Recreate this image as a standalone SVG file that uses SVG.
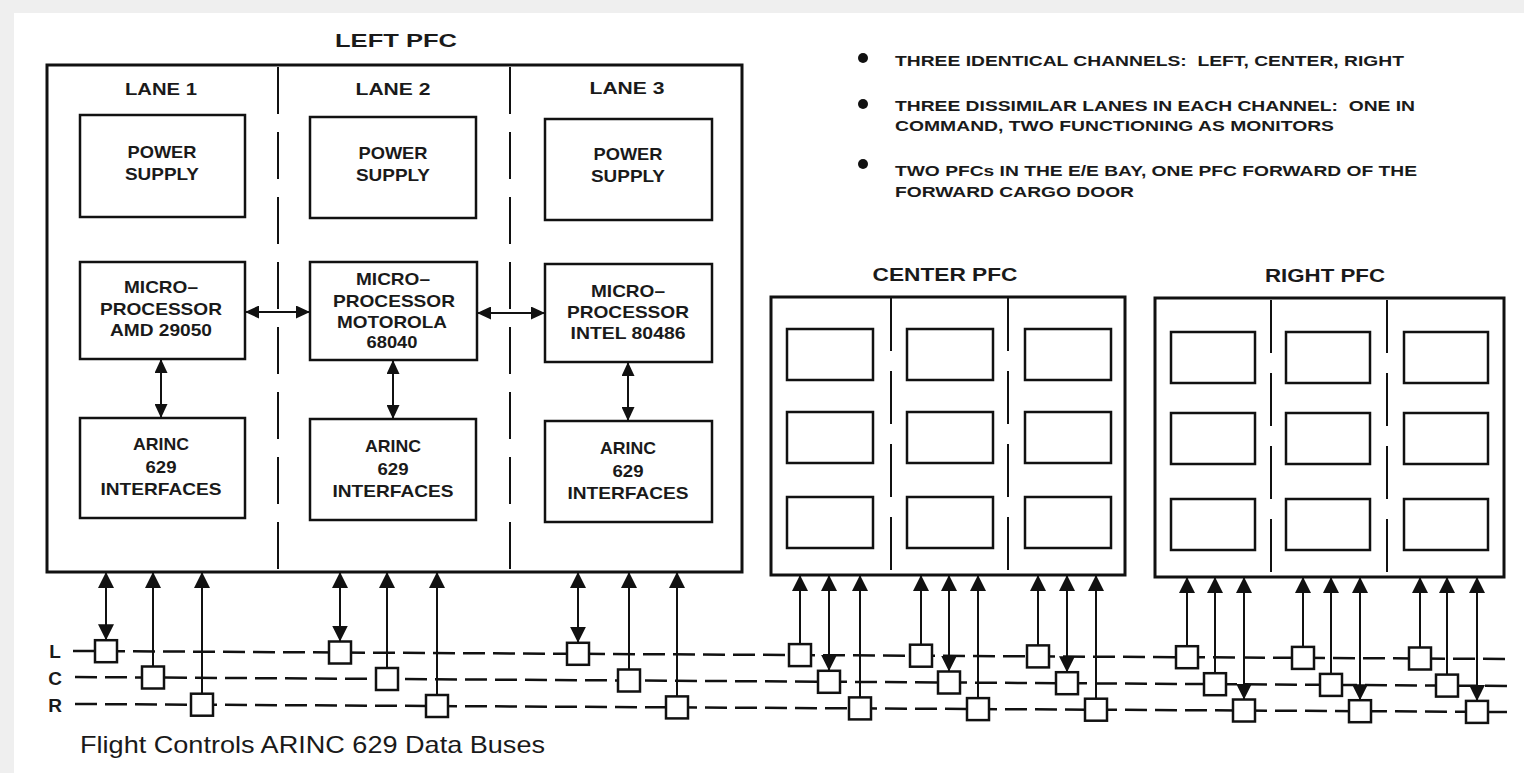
<svg xmlns="http://www.w3.org/2000/svg" width="1524" height="773" viewBox="0 0 1524 773">
<style>
.pfc{fill:#fff;stroke:#111;stroke-width:3}
.box{fill:#fff;stroke:#111;stroke-width:2.5}
.div1{stroke:#111;stroke-width:2;stroke-dasharray:47 18}
.div2{stroke:#111;stroke-width:2;stroke-dasharray:53 20}
.t{font-family:"Liberation Sans",Arial,sans-serif;font-weight:bold;fill:#1a1a1a;text-anchor:middle;font-size:17px}
.lbl{font-family:"Liberation Sans",Arial,sans-serif;font-weight:bold;fill:#1a1a1a;text-anchor:middle;font-size:19px}
.h{font-family:"Liberation Sans",Arial,sans-serif;font-weight:bold;fill:#1a1a1a;text-anchor:middle;font-size:19px}
.b{font-family:"Liberation Sans",Arial,sans-serif;font-weight:bold;fill:#1a1a1a;font-size:15px}
.bus{stroke:#111;stroke-width:2.5;stroke-dasharray:22 8;fill:none}
.cb{stroke:#111;stroke-width:2;fill:none;marker-end:url(#ah)}
.cd{stroke:#111;stroke-width:2;fill:none;marker-start:url(#ah);marker-end:url(#ah)}
.cs{stroke:#111;stroke-width:2;fill:none;marker-start:url(#as);marker-end:url(#as)}
.cpl{fill:#fff;stroke:#111;stroke-width:2.5}
</style>
<defs>
<marker id="ah" viewBox="0 0 16 16" refX="16" refY="8" markerWidth="16" markerHeight="16" markerUnits="userSpaceOnUse" orient="auto-start-reverse"><path d="M0,0 L16,8 L0,16 z" fill="#111"/></marker>
<marker id="as" viewBox="0 0 14 13" refX="14" refY="6.5" markerWidth="14" markerHeight="13" markerUnits="userSpaceOnUse" orient="auto-start-reverse"><path d="M0,0 L14,6.5 L0,13 z" fill="#111"/></marker>
</defs>
<rect x="0" y="0" width="1524" height="773" fill="#efefef"/>
<rect x="14" y="13" width="1510" height="760" fill="#fff"/>

<!-- Left PFC -->
<g id="left-pfc">
<text class="h" x="396" y="47" textLength="122" lengthAdjust="spacingAndGlyphs">LEFT PFC</text>
<rect class="pfc" x="47" y="65" width="695" height="507"/>
<line class="div1" x1="278" y1="67" x2="278" y2="571"/>
<line class="div1" x1="510" y1="67" x2="510" y2="571"/>
<text class="t" x="161" y="95" textLength="72" lengthAdjust="spacingAndGlyphs">LANE 1</text>
<text class="t" x="393" y="95" textLength="75" lengthAdjust="spacingAndGlyphs">LANE 2</text>
<text class="t" x="627" y="94" textLength="75" lengthAdjust="spacingAndGlyphs">LANE 3</text>
</g>

<g id="l1-power"><rect class="box" x="80" y="115" width="165" height="102"/>
<text class="t" x="162" y="158" textLength="69" lengthAdjust="spacingAndGlyphs">POWER</text>
<text class="t" x="162" y="180" textLength="74" lengthAdjust="spacingAndGlyphs">SUPPLY</text></g>
<g id="l2-power"><rect class="box" x="310" y="117" width="166" height="101"/>
<text class="t" x="393" y="159" textLength="69" lengthAdjust="spacingAndGlyphs">POWER</text>
<text class="t" x="393" y="181" textLength="74" lengthAdjust="spacingAndGlyphs">SUPPLY</text></g>
<g id="l3-power"><rect class="box" x="545" y="119" width="167" height="101"/>
<text class="t" x="628" y="160" textLength="69" lengthAdjust="spacingAndGlyphs">POWER</text>
<text class="t" x="628" y="182" textLength="74" lengthAdjust="spacingAndGlyphs">SUPPLY</text></g>

<g id="l1-micro"><rect class="box" x="80" y="262" width="165" height="97"/>
<text class="t" x="161" y="293" textLength="74" lengthAdjust="spacingAndGlyphs">MICRO–</text>
<text class="t" x="161" y="315" textLength="122" lengthAdjust="spacingAndGlyphs">PROCESSOR</text>
<text class="t" x="161" y="336" textLength="102" lengthAdjust="spacingAndGlyphs">AMD 29050</text></g>
<g id="l2-micro"><rect class="box" x="310" y="262" width="167" height="98"/>
<text class="t" x="393" y="285" textLength="74" lengthAdjust="spacingAndGlyphs">MICRO–</text>
<text class="t" x="394" y="307" textLength="122" lengthAdjust="spacingAndGlyphs">PROCESSOR</text>
<text class="t" x="392" y="328" textLength="110" lengthAdjust="spacingAndGlyphs">MOTOROLA</text>
<text class="t" x="392" y="348" textLength="51" lengthAdjust="spacingAndGlyphs">68040</text></g>
<g id="l3-micro"><rect class="box" x="545" y="264" width="167" height="98"/>
<text class="t" x="628" y="297" textLength="74" lengthAdjust="spacingAndGlyphs">MICRO–</text>
<text class="t" x="628" y="318" textLength="122" lengthAdjust="spacingAndGlyphs">PROCESSOR</text>
<text class="t" x="628" y="339" textLength="115" lengthAdjust="spacingAndGlyphs">INTEL 80486</text></g>

<g id="l1-arinc"><rect class="box" x="80" y="418" width="165" height="100"/>
<text class="t" x="161" y="450" textLength="56" lengthAdjust="spacingAndGlyphs">ARINC</text>
<text class="t" x="161" y="473" textLength="31" lengthAdjust="spacingAndGlyphs">629</text>
<text class="t" x="161" y="495" textLength="121" lengthAdjust="spacingAndGlyphs">INTERFACES</text></g>
<g id="l2-arinc"><rect class="box" x="310" y="419" width="166" height="101"/>
<text class="t" x="393" y="452" textLength="56" lengthAdjust="spacingAndGlyphs">ARINC</text>
<text class="t" x="393" y="475" textLength="31" lengthAdjust="spacingAndGlyphs">629</text>
<text class="t" x="393" y="497" textLength="121" lengthAdjust="spacingAndGlyphs">INTERFACES</text></g>
<g id="l3-arinc"><rect class="box" x="545" y="421" width="167" height="101"/>
<text class="t" x="628" y="454" textLength="56" lengthAdjust="spacingAndGlyphs">ARINC</text>
<text class="t" x="628" y="477" textLength="31" lengthAdjust="spacingAndGlyphs">629</text>
<text class="t" x="628" y="499" textLength="121" lengthAdjust="spacingAndGlyphs">INTERFACES</text></g>

<!-- Center PFC -->
<g id="center-pfc">
<text class="h" x="945" y="281" textLength="145" lengthAdjust="spacingAndGlyphs">CENTER PFC</text>
<rect class="pfc" x="771" y="297" width="354" height="278"/>
<line class="div2" x1="891" y1="298" x2="891" y2="574"/>
<line class="div2" x1="1008" y1="298" x2="1008" y2="574"/>
<rect class="box" x="787" y="329" width="86" height="51"/>
<rect class="box" x="907" y="329" width="86" height="51"/>
<rect class="box" x="1025" y="329" width="86" height="51"/>
<rect class="box" x="787" y="412" width="86" height="51"/>
<rect class="box" x="907" y="412" width="86" height="51"/>
<rect class="box" x="1025" y="412" width="86" height="51"/>
<rect class="box" x="787" y="497" width="86" height="51"/>
<rect class="box" x="907" y="497" width="86" height="51"/>
<rect class="box" x="1025" y="497" width="86" height="51"/>
</g>

<!-- Right PFC -->
<g id="right-pfc">
<text class="h" x="1325" y="282" textLength="120" lengthAdjust="spacingAndGlyphs">RIGHT PFC</text>
<rect class="pfc" x="1155" y="298" width="349" height="279"/>
<line class="div2" x1="1271" y1="300" x2="1271" y2="576"/>
<line class="div2" x1="1387" y1="300" x2="1387" y2="576"/>
<rect class="box" x="1171" y="332" width="84" height="51"/>
<rect class="box" x="1286" y="332" width="84" height="51"/>
<rect class="box" x="1404" y="332" width="84" height="51"/>
<rect class="box" x="1171" y="413" width="84" height="51"/>
<rect class="box" x="1286" y="413" width="84" height="51"/>
<rect class="box" x="1404" y="413" width="84" height="51"/>
<rect class="box" x="1171" y="499" width="84" height="51"/>
<rect class="box" x="1286" y="499" width="84" height="51"/>
<rect class="box" x="1404" y="499" width="84" height="51"/>
</g>

<!-- Notes -->
<g id="notes">
<circle cx="863" cy="58" r="5" fill="#111"/>
<circle cx="863" cy="104" r="5" fill="#111"/>
<circle cx="863" cy="164" r="5" fill="#111"/>
<text class="b" x="895" y="66" textLength="509" lengthAdjust="spacingAndGlyphs" xml:space="preserve">THREE IDENTICAL CHANNELS:  LEFT, CENTER, RIGHT</text>
<text class="b" x="895" y="111" textLength="520" lengthAdjust="spacingAndGlyphs" xml:space="preserve">THREE DISSIMILAR LANES IN EACH CHANNEL:  ONE IN</text>
<text class="b" x="895" y="131" textLength="439" lengthAdjust="spacingAndGlyphs">COMMAND, TWO FUNCTIONING AS MONITORS</text>
<text class="b" x="895" y="176" textLength="522" lengthAdjust="spacingAndGlyphs">TWO PFCs IN THE E/E BAY, ONE PFC FORWARD OF THE</text>
<text class="b" x="895" y="197" textLength="239" lengthAdjust="spacingAndGlyphs">FORWARD CARGO DOOR</text>
</g>

<!-- Buses -->
<g id="buses">
<line class="bus" x1="73" y1="651" x2="1507" y2="659"/>
<line class="bus" x1="75" y1="677" x2="1507" y2="686"/>
<line class="bus" x1="75" y1="704" x2="1507" y2="712"/>
<text class="lbl" x="55" y="658">L</text>
<text class="lbl" x="55" y="685">C</text>
<text class="lbl" x="55" y="712">R</text>
</g>

<!-- Connectors -->
<g id="connectors">
<line class="cs" x1="245" y1="312" x2="310" y2="312"/>
<line class="cs" x1="477" y1="313" x2="545" y2="313"/>
<line class="cs" x1="161" y1="359" x2="161" y2="418"/>
<line class="cs" x1="393" y1="360" x2="393" y2="419"/>
<line class="cs" x1="628" y1="362" x2="628" y2="421"/>

<line class="cd" x1="106" y1="572" x2="106" y2="640.2"/>
<line class="cb" x1="153" y1="666.5" x2="153" y2="572"/>
<line class="cb" x1="202" y1="693.7" x2="202" y2="572"/>
<line class="cd" x1="340" y1="572" x2="340" y2="641.5"/>
<line class="cb" x1="387" y1="668" x2="387" y2="572"/>
<line class="cb" x1="437" y1="695" x2="437" y2="572"/>
<line class="cd" x1="578" y1="572" x2="578" y2="642.8"/>
<line class="cb" x1="629" y1="669.5" x2="629" y2="572"/>
<line class="cb" x1="677" y1="696.4" x2="677" y2="572"/>

<line class="cb" x1="800" y1="644.1" x2="800" y2="575"/>
<line class="cd" x1="829" y1="575" x2="829" y2="670.8"/>
<line class="cb" x1="860" y1="697.4" x2="860" y2="575"/>
<line class="cb" x1="921" y1="644.7" x2="921" y2="575"/>
<line class="cd" x1="949" y1="575" x2="949" y2="671.5"/>
<line class="cb" x1="978" y1="698.1" x2="978" y2="575"/>
<line class="cb" x1="1038" y1="645.4" x2="1038" y2="575"/>
<line class="cd" x1="1067" y1="575" x2="1067" y2="672.2"/>
<line class="cb" x1="1096" y1="698.7" x2="1096" y2="575"/>

<line class="cb" x1="1187" y1="646.2" x2="1187" y2="577"/>
<line class="cb" x1="1215" y1="673.2" x2="1215" y2="577"/>
<line class="cd" x1="1244" y1="577" x2="1244" y2="699.5"/>
<line class="cb" x1="1303" y1="646.9" x2="1303" y2="577"/>
<line class="cb" x1="1331" y1="673.9" x2="1331" y2="577"/>
<line class="cd" x1="1360" y1="577" x2="1360" y2="700.2"/>
<line class="cb" x1="1420" y1="647.5" x2="1420" y2="577"/>
<line class="cb" x1="1447" y1="674.6" x2="1447" y2="577"/>
<line class="cd" x1="1477" y1="577" x2="1477" y2="700.9"/>
</g>

<!-- Bus couplers -->
<g id="couplers">
<rect class="cpl" x="95" y="640.2" width="22" height="22"/>
<rect class="cpl" x="142" y="666.5" width="22" height="22"/>
<rect class="cpl" x="191" y="693.7" width="22" height="22"/>
<rect class="cpl" x="329" y="641.5" width="22" height="22"/>
<rect class="cpl" x="376" y="668" width="22" height="22"/>
<rect class="cpl" x="426" y="695" width="22" height="22"/>
<rect class="cpl" x="567" y="642.8" width="22" height="22"/>
<rect class="cpl" x="618" y="669.5" width="22" height="22"/>
<rect class="cpl" x="666" y="696.4" width="22" height="22"/>
<rect class="cpl" x="789" y="644.1" width="22" height="22"/>
<rect class="cpl" x="818" y="670.8" width="22" height="22"/>
<rect class="cpl" x="849" y="697.4" width="22" height="22"/>
<rect class="cpl" x="910" y="644.7" width="22" height="22"/>
<rect class="cpl" x="938" y="671.5" width="22" height="22"/>
<rect class="cpl" x="967" y="698.1" width="22" height="22"/>
<rect class="cpl" x="1027" y="645.4" width="22" height="22"/>
<rect class="cpl" x="1056" y="672.2" width="22" height="22"/>
<rect class="cpl" x="1085" y="698.7" width="22" height="22"/>
<rect class="cpl" x="1176" y="646.2" width="22" height="22"/>
<rect class="cpl" x="1204" y="673.2" width="22" height="22"/>
<rect class="cpl" x="1233" y="699.5" width="22" height="22"/>
<rect class="cpl" x="1292" y="646.9" width="22" height="22"/>
<rect class="cpl" x="1320" y="673.9" width="22" height="22"/>
<rect class="cpl" x="1349" y="700.2" width="22" height="22"/>
<rect class="cpl" x="1409" y="647.5" width="22" height="22"/>
<rect class="cpl" x="1436" y="674.6" width="22" height="22"/>
<rect class="cpl" x="1466" y="700.9" width="22" height="22"/>
</g>

<text x="80" y="753" font-family="'Liberation Sans',Arial,sans-serif" font-size="24" fill="#1a1a1a" textLength="465" lengthAdjust="spacingAndGlyphs">Flight Controls ARINC 629 Data Buses</text>
</svg>
